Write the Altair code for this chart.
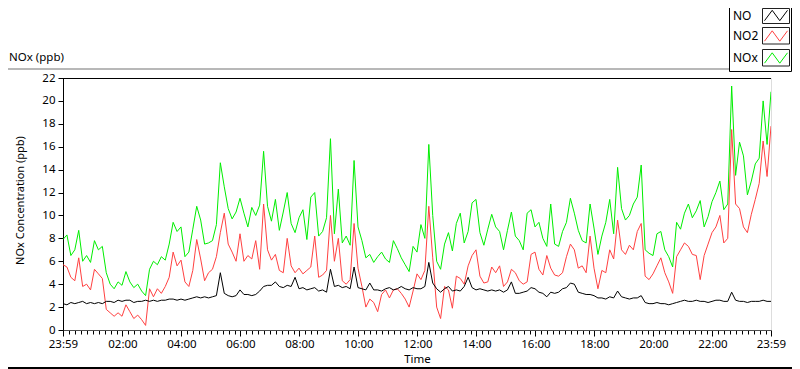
import altair as alt
import pandas as pd

# ---------------- data (8-minute steps) ----------------
minutes = list(range(0, 1441, 8))  # minutes after 23:59 of the previous day

no = [2.3, 2.2, 2.4, 2.3, 2.4, 2.5, 2.3, 2.4, 2.3, 2.4, 2.3, 2.5, 2.5, 2.4, 2.6, 2.5,
      2.6, 2.6, 2.4, 2.5, 2.5, 2.6, 2.5, 2.6, 2.5, 2.6, 2.6, 2.7, 2.7, 2.6, 2.7, 2.6,
      2.7, 2.8, 2.9, 2.8, 2.9, 2.8, 2.9, 3.0, 5.0, 3.2, 3.0, 2.9, 3.0, 3.5, 3.1, 3.1,
      3.0, 3.1, 3.4, 3.8, 3.9, 3.9, 4.2, 3.8, 3.7, 3.9, 3.8, 4.6, 3.6, 3.7, 3.5, 3.6,
      3.7, 3.4, 3.5, 3.3, 5.3, 3.8, 3.9, 3.7, 3.8, 3.6, 5.5, 3.7, 3.6, 3.5, 4.1, 3.5,
      3.5, 3.4, 3.6, 3.7, 3.5, 3.6, 3.8, 3.6, 3.5, 3.7, 3.6, 3.6, 3.8, 5.9, 4.1, 3.6,
      3.3, 3.6, 3.8, 3.4, 3.5, 3.4, 3.8, 4.6, 3.7, 3.5, 3.6, 3.5, 3.4, 3.5, 3.4, 3.5,
      3.3, 3.5, 4.2, 3.2, 3.2, 3.3, 3.4, 3.7, 3.6, 3.3, 3.2, 2.9, 3.3, 3.2, 3.3, 3.6,
      3.7, 4.1, 4.0, 3.3, 3.2, 3.1, 3.1, 3.0, 2.8, 2.8, 2.7, 2.9, 2.8, 3.4, 2.9, 2.8,
      2.7, 2.8, 2.8, 3.0, 2.4, 2.3, 2.3, 2.4, 2.3, 2.3, 2.2, 2.3, 2.4, 2.5, 2.6, 2.5,
      2.5, 2.6, 2.5, 2.5, 2.4, 2.5, 2.6, 2.6, 2.5, 2.5, 3.3, 2.6, 2.5, 2.5, 2.4, 2.5,
      2.5, 2.5, 2.6, 2.5, 2.5]

no2 = [5.7, 5.5, 4.6, 4.3, 6.3, 3.8, 4.0, 3.5, 5.3, 4.9, 4.5, 1.8, 1.5, 1.2, 1.5, 1.2,
       2.2, 1.6, 1.0, 1.3, 0.9, 0.4, 3.6, 2.9, 3.6, 3.2, 3.8, 4.6, 6.8, 5.6, 6.1, 4.2,
       3.8, 5.2, 7.9, 6.2, 4.3, 5.0, 5.3, 6.4, 8.5, 10.2, 7.5, 6.8, 6.0, 8.4, 6.0, 6.5,
       6.2, 7.8, 5.3, 11.0, 7.0, 6.1, 6.6, 5.2, 5.0, 8.0, 5.6, 5.0, 5.4, 4.9, 5.2, 5.5,
       8.2, 4.6, 4.8, 5.2, 10.0, 6.0, 8.0, 4.3, 4.0, 4.4, 9.3, 5.4, 3.8, 2.0, 2.7, 2.4,
       1.6, 3.1, 3.5, 2.8, 3.5, 3.6, 3.2, 2.7, 2.0, 3.4, 4.9, 4.4, 5.2, 10.8, 6.3, 2.0,
       1.0, 3.8, 3.5, 1.9, 4.7, 4.5, 4.0, 5.6, 6.5, 7.0, 4.7, 4.1, 4.2, 5.5, 5.0, 5.6,
       3.8, 4.2, 5.3, 5.0, 4.3, 4.0, 4.2, 6.6, 6.8, 5.3, 4.8, 6.5, 5.4, 4.8, 4.7, 5.0,
       6.4, 7.5, 7.0, 5.4, 5.6, 5.0, 8.2, 5.4, 3.6, 5.2, 5.0, 7.0, 6.2, 9.6, 7.0, 6.6,
       7.4, 7.0, 8.6, 9.3, 4.7, 4.4, 4.9, 5.6, 6.3, 5.0, 4.2, 3.2, 6.4, 7.0, 7.6, 7.3,
       6.6, 6.5, 4.4, 6.5, 7.5, 8.5, 9.0, 10.0, 7.6, 8.0, 17.5, 11.0, 10.6, 9.0, 8.5, 10.1,
       11.4, 12.8, 16.5, 13.4, 17.8]

nox = [7.9, 8.3, 6.5, 7.0, 8.7, 6.0, 6.5, 5.9, 7.8, 7.0, 7.3, 5.0, 4.0, 3.6, 4.2, 3.9,
       5.1, 4.2, 3.7, 4.0, 3.4, 3.0, 5.3, 6.0, 5.7, 6.4, 6.1, 7.5, 9.4, 8.6, 9.0, 6.4,
       6.8, 8.8, 10.8, 9.6, 7.5, 7.6, 7.8, 9.2, 14.6, 12.5, 10.6, 9.7, 10.3, 11.5, 10.2, 9.0,
       10.7, 10.0, 10.9, 15.6, 10.8, 9.5, 11.4, 8.7, 10.3, 12.0, 9.3, 8.5, 9.8, 10.5, 7.9, 11.6,
       12.0, 8.2, 8.6, 9.8, 16.7, 8.4, 12.3, 7.6, 8.2, 7.4, 14.8, 9.0, 7.8, 6.3, 6.6, 5.9,
       6.4, 6.8, 6.2, 5.9, 7.8, 7.1, 6.3, 5.7, 5.1, 7.3, 6.8, 9.2, 8.0, 16.2, 10.0, 6.0,
       5.3, 7.5, 8.5, 6.9, 9.3, 10.2, 7.6, 8.6, 11.1, 11.4, 8.5, 7.4, 8.8, 10.1, 9.0, 8.6,
       7.0, 8.7, 10.3, 8.2, 7.8, 7.0, 10.2, 10.5, 9.0, 9.4, 8.0, 7.3, 11.0, 7.5, 7.3, 8.6,
       9.4, 11.5, 10.2, 8.7, 7.8, 7.6, 11.0, 8.9, 6.6, 8.2, 9.4, 11.4, 8.4, 14.2, 10.6, 9.6,
       10.0, 11.0, 11.6, 14.4, 7.0, 6.7, 6.5, 8.4, 8.6, 7.0, 6.4, 5.5, 9.4, 8.8, 10.2, 11.0,
       9.8, 10.4, 11.3, 9.0, 9.9, 11.2, 12.0, 13.0, 10.5, 11.0, 21.3, 13.5, 16.4, 15.2, 11.8, 13.0,
       14.5, 15.0, 20.0, 16.2, 20.8]

series_names = ["NO", "NO2", "NOx"]
series_colors = ["#000000", "#ff4040", "#00ee00"]

major_ticks = [0, 121, 241, 361, 481, 601, 721, 841, 961, 1081, 1201, 1321, 1440]
major_labels = ["23:59", "02:00", "04:00", "06:00", "08:00", "10:00", "12:00",
                "14:00", "16:00", "18:00", "20:00", "22:00", "23:59"]
minor_ticks = [1 + 12 * i for i in range(120)]
y_ticks = list(range(0, 23, 2))

FONT = "Noto Sans"
FS = 11.5
W, H = 708, 252

frames = []
for name, vals in zip(series_names, [no, no2, nox]):
    frames.append(pd.DataFrame({"t": minutes, "v": vals, "s": name}))
df = pd.concat(frames, ignore_index=True)

maj_str = "[" + ",".join(str(v) for v in major_ticks) + "]"
lab_str = "[" + ",".join("'" + s + "'" for s in major_labels) + "]"
label_expr = f"indexof({maj_str}, datum.value) >= 0 ? {lab_str}[indexof({maj_str}, datum.value)] : ''"

x_axis = alt.Axis(
    values=sorted(set(major_ticks + minor_ticks)),
    labelExpr=label_expr,
    labelOverlap=False, labelFlush=False, labelBound=False,
    tickSize={"condition": {"test": f"indexof({maj_str}, datum.value) >= 0", "value": 6}, "value": 4},
    tickColor="black", domainColor="#505050", grid=False,
    labelFont=FONT, labelFontSize=FS, labelColor="black", labelPadding=2,
    title="Time", titleFont=FONT, titleFontSize=FS, titleFontWeight="normal", titleColor="black",
    titleX=354, titleY=29, titleBaseline="middle", titleAnchor="start", titleAlign="center",
)
y_axis = alt.Axis(
    values=y_ticks, tickSize=5, tickColor="black", domainColor="black", grid=False,
    labelFont=FONT, labelFontSize=FS, labelColor="black", labelPadding=3,
    title="NOx Concentration (ppb)", titleFont=FONT, titleFontSize=11,
    titleFontWeight="normal", titleColor="black",
    titleX=-43, titleY=122, titleAngle=-90, titleBaseline="middle", titleAlign="center",
    titleAnchor="start",
)

x_enc = alt.X("t:Q", scale=alt.Scale(domain=[0, 1440], nice=False, zero=False), axis=x_axis)
y_enc = alt.Y("v:Q", scale=alt.Scale(domain=[0, 22], nice=False), axis=y_axis)

base = alt.Chart(df)
line_layers = []
for name, col in zip(["NOx", "NO2", "NO"], ["#00ee00", "#ff4040", "#000000"]):
    line_layers.append(
        base.transform_filter(alt.datum.s == name)
        .mark_line(color=col, strokeWidth=1, clip=True, interpolate="linear")
        .encode(x=x_enc, y=y_enc)
    )

one = pd.DataFrame({"a": [0]})
dec = alt.Chart(one)

top_rule = dec.mark_rule(color="black", strokeWidth=1).encode(
    x=alt.value(0), x2=alt.value(W), y=alt.value(0.5))
sep_rule = dec.mark_rule(color="#a0a0a0", strokeWidth=1.5).encode(
    x=alt.value(-55), x2=alt.value(666), y=alt.value(-9))
bottom_rule = dec.mark_rule(color="black", strokeWidth=2).encode(
    x=alt.value(-55), x2=alt.value(729), y=alt.value(290))
title_txt = dec.mark_text(text="NOx (ppb)", font=FONT, fontSize=FS, align="left",
                          baseline="middle", color="black").encode(
    x=alt.value(-54), y=alt.value(-20))
legend_box = dec.mark_rect(fill="white", stroke="black", strokeWidth=1).encode(
    x=alt.value(666.5), x2=alt.value(728.5), y=alt.value(-75), y2=alt.value(-6.5))

leg_layers = [legend_box]
row_y = [-62.5, -42, -20]
for name, col, yy in zip(series_names, series_colors, row_y):
    leg_layers.append(dec.mark_text(text=name, font=FONT, fontSize=12, align="left",
                                    baseline="middle", color="black").encode(
        x=alt.value(670), y=alt.value(yy)))
    leg_layers.append(dec.mark_rect(fill="white", stroke="#202020", strokeWidth=1).encode(
        x=alt.value(699.5), x2=alt.value(726.5), y=alt.value(max(yy - 8.5, -69.5)),
        y2=alt.value(yy + 8)))
    leg_layers.append(dec.mark_point(shape="M-1,0.45L-0.33,-0.45L0.33,0.45L1,-0.45",
                                     size=529, filled=False, color=col, strokeWidth=1,
                                     opacity=1).encode(
        x=alt.value(713), y=alt.value(yy)))

chart = alt.layer(
    *line_layers, top_rule, sep_rule, bottom_rule, title_txt, *leg_layers
).properties(
    width=W, height=H,
    autosize=alt.AutoSizeParams(type="none"),
    padding={"left": 55, "top": 70, "right": 21, "bottom": 39},
).configure_view(stroke="#808080", strokeWidth=1).configure(background="white")

chart.save("out.html", embed_options={"renderer": "svg", "actions": False})
